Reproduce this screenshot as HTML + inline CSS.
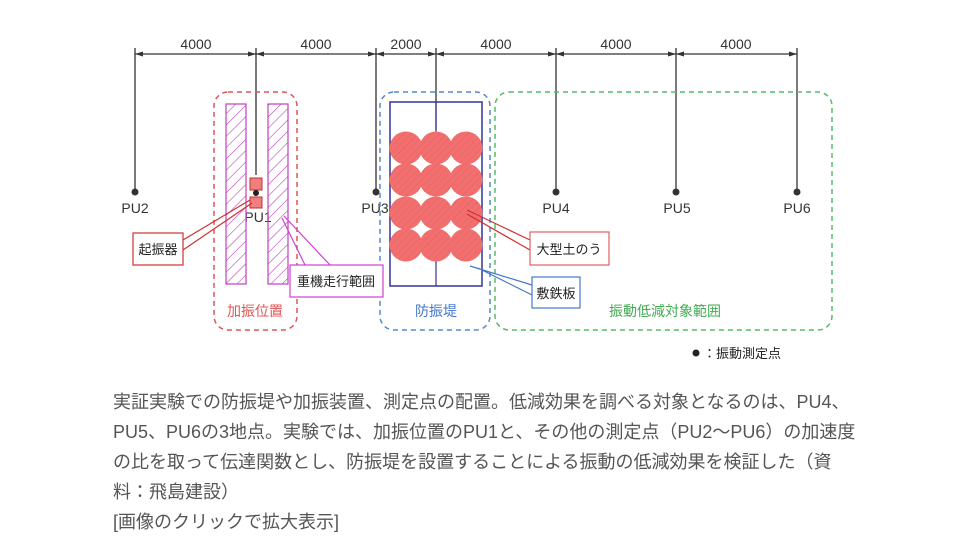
<!DOCTYPE html>
<html><head><meta charset="utf-8"><style>
body{margin:0;background:#fff;width:967px;height:544px;overflow:hidden;position:relative;font-family:"Liberation Sans","Noto Sans CJK JP",sans-serif}
.cap{position:absolute;left:113px;color:#555;font-size:18px;white-space:nowrap;letter-spacing:0px}
</style></head><body>
<svg width="967" height="380" style="position:absolute;left:0;top:0" font-family="Liberation Sans, Noto Sans CJK JP, sans-serif">
<defs>
<pattern id="h" width="8" height="8" patternUnits="userSpaceOnUse" patternTransform="rotate(45)"><line x1="0" y1="0" x2="0" y2="8" stroke="#c040c0" stroke-width="1.2"/></pattern>
<pattern id="r" width="5" height="5" patternUnits="userSpaceOnUse" patternTransform="rotate(45)"><rect width="5" height="5" fill="#f26f6f"/><line x1="0" y1="0" x2="0" y2="5" stroke="#e86060" stroke-width="1"/></pattern>
</defs>
<g stroke="#333" stroke-width="1.3">
<line x1="135" y1="54" x2="797" y2="54"/>
<line x1="135" y1="48" x2="135" y2="190"/>
<line x1="256" y1="48" x2="256" y2="175"/>
<line x1="376" y1="48" x2="376" y2="190"/>
<line x1="436" y1="48" x2="436" y2="130"/>
<line x1="556" y1="48" x2="556" y2="190"/>
<line x1="676" y1="48" x2="676" y2="190"/>
<line x1="797" y1="48" x2="797" y2="190"/>
</g>
<g fill="#333">
<path d="M135 54l8-2.5v5zM256 54l-8-2.5v5zM256 54l8-2.5v5zM376 54l-8-2.5v5zM376 54l8-2.5v5zM436 54l-8-2.5v5zM436 54l8-2.5v5zM556 54l-8-2.5v5zM556 54l8-2.5v5zM676 54l-8-2.5v5zM676 54l8-2.5v5zM797 54l-8-2.5v5z"/>
<circle cx="135" cy="192" r="3.5"/><circle cx="376" cy="192" r="3.5"/><circle cx="556" cy="192" r="3.5"/><circle cx="676" cy="192" r="3.5"/><circle cx="797" cy="192" r="3.5"/>
</g>
<g font-size="14" fill="#333" text-anchor="middle">
<text x="196" y="49">4000</text><text x="316" y="49">4000</text><text x="406" y="49">2000</text><text x="496" y="49">4000</text><text x="616" y="49">4000</text><text x="736" y="49">4000</text>
<text x="135" y="213">PU2</text><text x="258" y="222">PU1</text><text x="375" y="213">PU3</text><text x="556" y="213">PU4</text><text x="677" y="213">PU5</text><text x="797" y="213">PU6</text>
</g>
<rect x="214" y="92" width="83" height="238" rx="14" fill="none" stroke="#e05555" stroke-width="1.5" stroke-dasharray="5,4"/>
<rect x="380" y="92" width="110" height="238" rx="14" fill="none" stroke="#5588cc" stroke-width="1.5" stroke-dasharray="5,4"/>
<rect x="495" y="92" width="337" height="238" rx="14" fill="none" stroke="#55bb66" stroke-width="1.5" stroke-dasharray="5,4"/>
<rect x="226" y="104" width="20" height="180" fill="url(#h)" stroke="#c040c0" stroke-width="1.2"/>
<rect x="268" y="104" width="20" height="180" fill="url(#h)" stroke="#c040c0" stroke-width="1.2"/>
<rect x="250" y="178" width="12" height="12" fill="#f08080" stroke="#c03030"/>
<rect x="250" y="197" width="12" height="11" fill="#f08080" stroke="#c03030"/>
<circle cx="256" cy="193" r="3" fill="#222"/>
<rect x="390" y="102" width="92" height="184" fill="none" stroke="#333399" stroke-width="1.5"/>
<line x1="436" y1="102" x2="436" y2="286" stroke="#333399" stroke-width="1.2"/>
<g fill="url(#r)">
<circle cx="406" cy="148" r="16.5"/><circle cx="436" cy="148" r="16.5"/><circle cx="466" cy="148" r="16.5"/>
<circle cx="406" cy="180" r="16.5"/><circle cx="436" cy="180" r="16.5"/><circle cx="466" cy="180" r="16.5"/>
<circle cx="406" cy="213" r="16.5"/><circle cx="436" cy="213" r="16.5"/><circle cx="466" cy="213" r="16.5"/>
<circle cx="406" cy="245" r="16.5"/><circle cx="436" cy="245" r="16.5"/><circle cx="466" cy="245" r="16.5"/>
</g>
<path d="M183 240L250 200M183 250L252 203" stroke="#d03030" stroke-width="1.2" fill="none"/>
<rect x="133" y="233" width="50" height="32" fill="#fff" stroke="#d03030" stroke-width="1.2"/>
<text x="158" y="254" font-size="13" text-anchor="middle" fill="#222">起振器</text>
<path d="M282 218L305 265M284 216L330 265" stroke="#d040d0" stroke-width="1.2" fill="none"/>
<rect x="290" y="265" width="93" height="32" fill="#fff" stroke="#d040d0" stroke-width="1.2"/>
<text x="336" y="286" font-size="13" text-anchor="middle" fill="#222">重機走行範囲</text>
<path d="M467 210L530 240M467 214L530 250" stroke="#d03030" stroke-width="1.2" fill="none"/>
<rect x="530" y="232" width="79" height="33" fill="#fff" stroke="#e06060" stroke-width="1.2"/>
<text x="569" y="254" font-size="13" text-anchor="middle" fill="#222">大型土のう</text>
<path d="M470 266L532 285M478 268L532 295" stroke="#4477cc" stroke-width="1.2" fill="none"/>
<rect x="532" y="277" width="48" height="31" fill="#fff" stroke="#4477cc" stroke-width="1.2"/>
<text x="556" y="298" font-size="13" text-anchor="middle" fill="#222">敷鉄板</text>
<text x="255" y="316" font-size="14" text-anchor="middle" fill="#e05555">加振位置</text>
<text x="436" y="316" font-size="14" text-anchor="middle" fill="#4477cc">防振堤</text>
<text x="665" y="316" font-size="14" text-anchor="middle" fill="#44aa55">振動低減対象範囲</text>
<circle cx="696" cy="353" r="3.5" fill="#222"/>
<text x="703" y="358" font-size="13" fill="#222">：振動測定点</text>
</svg>
<div class="cap" style="top:388px">実証実験での防振堤や加振装置、測定点の配置。低減効果を調べる対象となるのは、PU4、</div>
<div class="cap" style="top:418px">PU5、PU6の3地点。実験では、加振位置のPU1と、その他の測定点（PU2～PU6）の加速度</div>
<div class="cap" style="top:448px">の比を取って伝達関数とし、防振堤を設置することによる振動の低減効果を検証した（資</div>
<div class="cap" style="top:478px">料：飛島建設）</div>
<div class="cap" style="top:508px">[画像のクリックで拡大表示]</div>
</body></html>
